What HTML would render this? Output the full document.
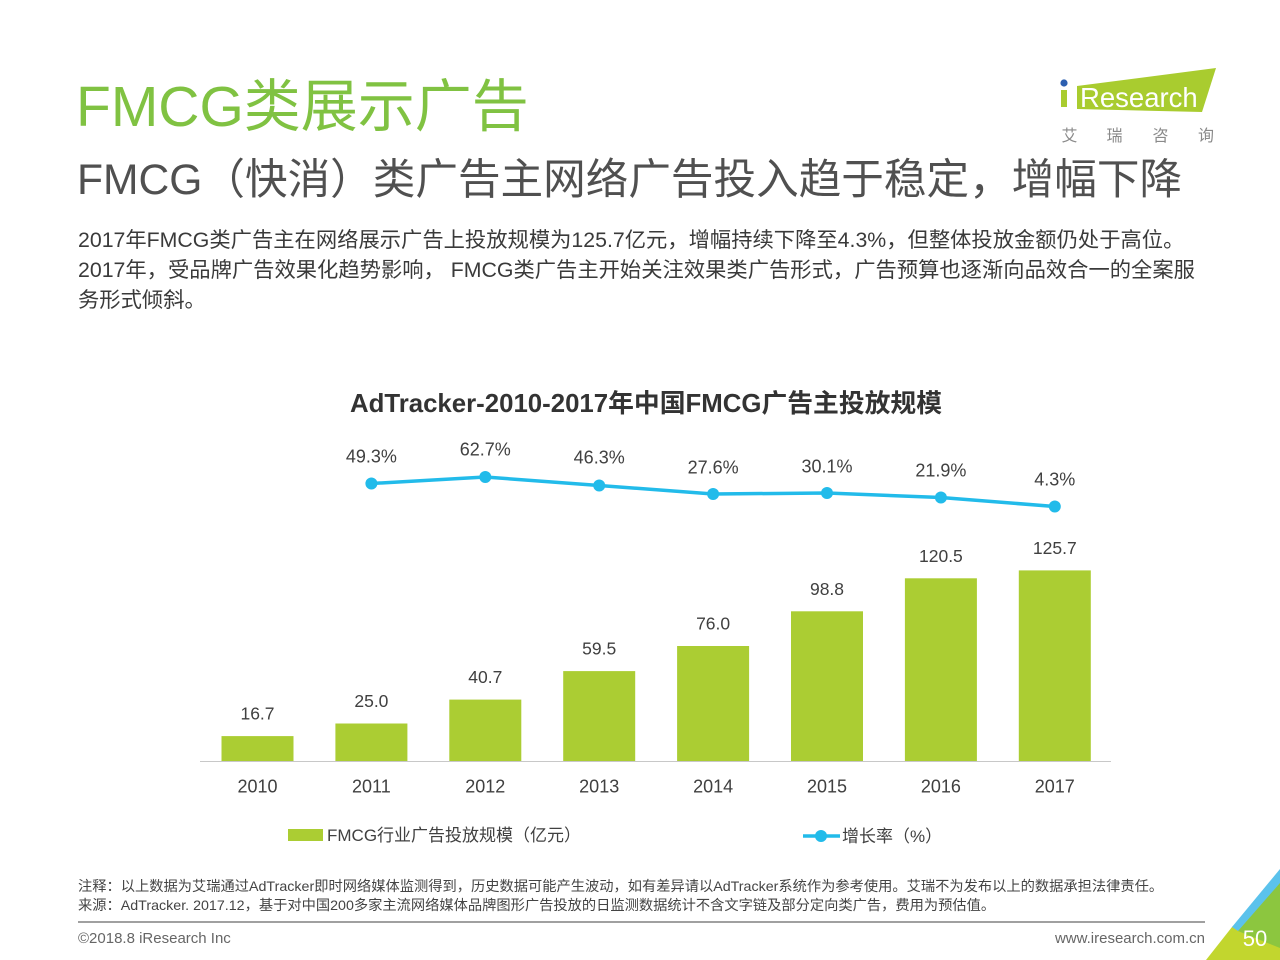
<!DOCTYPE html>
<html>
<head>
<meta charset="utf-8">
<style>
  html,body{margin:0;padding:0;background:#fff;}
  body{width:1280px;height:960px;position:relative;overflow:hidden;font-family:"Liberation Sans","Noto Sans CJK SC",sans-serif;}
  .abs{position:absolute;white-space:nowrap;}
  #title{left:76px;top:74px;font-size:57px;line-height:66px;color:#80c242;}
  #subtitle{left:77px;top:154px;font-size:42.6px;line-height:52px;color:#505050;}
  .body{left:78px;font-size:21.3px;line-height:30px;color:#3a3a3a;}
  .note{left:78px;font-size:14.25px;line-height:19px;color:#444;}
  .foot{font-size:15px;line-height:20px;color:#666;}
</style>
</head>
<body>
<div id="title" class="abs">FMCG类展示广告</div>
<div id="subtitle" class="abs">FMCG（快消）类广告主网络广告投入趋于稳定，增幅下降</div>
<div class="abs body" style="top:225px;">2017年FMCG类广告主在网络展示广告上投放规模为125.7亿元，增幅持续下降至4.3%，但整体投放金额仍处于高位。</div>
<div class="abs body" style="top:255px;">2017年，受品牌广告效果化趋势影响， FMCG类广告主开始关注效果类广告形式，广告预算也逐渐向品效合一的全案服</div>
<div class="abs body" style="top:285px;">务形式倾斜。</div>

<div class="abs note" style="top:878px;">注释：以上数据为艾瑞通过AdTracker即时网络媒体监测得到，历史数据可能产生波动，如有差异请以AdTracker系统作为参考使用。艾瑞不为发布以上的数据承担法律责任。</div>
<div class="abs note" style="top:897px;">来源：AdTracker. 2017.12，基于对中国200多家主流网络媒体品牌图形广告投放的日监测数据统计不含文字链及部分定向类广告，费用为预估值。</div>
<div class="abs foot" style="left:78px;top:929px;">©2018.8 iResearch Inc</div>
<div class="abs foot" style="right:75px;top:929px;">www.iresearch.com.cn</div>

<svg class="abs" style="left:0;top:0;" width="1280" height="960" viewBox="0 0 1280 960" xmlns="http://www.w3.org/2000/svg" font-family="Liberation Sans, Noto Sans CJK SC, sans-serif">
  <!-- logo -->
  <polygon points="1077,86 1216,68 1202,112 1077,109" fill="#a9cc2f"/>
  <rect x="1061" y="90" width="6" height="17" fill="#a9cc2f"/>
  <circle cx="1064" cy="83" r="3.6" fill="#2c5fb0"/>
  <text x="1080" y="107" font-size="27.5" fill="#fff">Research</text>
  <g font-size="16" fill="#8a8a8a" text-anchor="middle">
    <text x="1069.5" y="141">艾</text>
    <text x="1114.5" y="141">瑞</text>
    <text x="1160.5" y="141">咨</text>
    <text x="1206" y="141">询</text>
  </g>

  <!-- chart title -->
  <text x="646" y="412" font-size="25.8" font-weight="bold" fill="#333" text-anchor="middle">AdTracker-2010-2017年中国FMCG广告主投放规模</text>

  <!-- bars -->
  <g fill="#abcd33">
    <rect x="221.5" y="736.1" width="72" height="25.4"/>
    <rect x="335.4" y="723.5" width="72" height="38"/>
    <rect x="449.3" y="699.6" width="72" height="61.9"/>
    <rect x="563.2" y="671.1" width="72" height="90.4"/>
    <rect x="677.1" y="646" width="72" height="115.5"/>
    <rect x="791" y="611.3" width="72" height="150.2"/>
    <rect x="904.9" y="578.3" width="72" height="183.2"/>
    <rect x="1018.8" y="570.4" width="72" height="191.1"/>
  </g>
  <line x1="200" y1="761.5" x2="1111" y2="761.5" stroke="#c8c8c8" stroke-width="1"/>

  <g font-size="17.5" fill="#404040" text-anchor="middle">
    <text x="257.5" y="719.6">16.7</text>
    <text x="371.4" y="707">25.0</text>
    <text x="485.3" y="683.1">40.7</text>
    <text x="599.2" y="654.6">59.5</text>
    <text x="713.1" y="629.5">76.0</text>
    <text x="827" y="594.8">98.8</text>
    <text x="940.9" y="561.8">120.5</text>
    <text x="1054.8" y="553.9">125.7</text>
  </g>

  <g font-size="18" fill="#404040" text-anchor="middle">
    <text x="257.5" y="792.5">2010</text>
    <text x="371.4" y="792.5">2011</text>
    <text x="485.3" y="792.5">2012</text>
    <text x="599.2" y="792.5">2013</text>
    <text x="713.1" y="792.5">2014</text>
    <text x="827" y="792.5">2015</text>
    <text x="940.9" y="792.5">2016</text>
    <text x="1054.8" y="792.5">2017</text>
  </g>

  <!-- growth line -->
  <polyline points="371.4,483.5 485.3,477 599.2,485.5 713.1,494 827,493 940.9,497.5 1054.8,506.5" fill="none" stroke="#22bbea" stroke-width="3.5" stroke-linejoin="round"/>
  <g fill="#22bbea">
    <circle cx="371.4" cy="483.5" r="6"/>
    <circle cx="485.3" cy="477" r="6"/>
    <circle cx="599.2" cy="485.5" r="6"/>
    <circle cx="713.1" cy="494" r="6"/>
    <circle cx="827" cy="493" r="6"/>
    <circle cx="940.9" cy="497.5" r="6"/>
    <circle cx="1054.8" cy="506.5" r="6"/>
  </g>
  <g font-size="18" fill="#404040" text-anchor="middle">
    <text x="371.4" y="462.5">49.3%</text>
    <text x="485.3" y="455.5">62.7%</text>
    <text x="599.2" y="463.5">46.3%</text>
    <text x="713.1" y="473.5">27.6%</text>
    <text x="827" y="472.5">30.1%</text>
    <text x="940.9" y="476.5">21.9%</text>
    <text x="1054.8" y="485.5">4.3%</text>
  </g>

  <!-- legend -->
  <rect x="288" y="829" width="35" height="12" fill="#abcd33"/>
  <text x="327" y="841" font-size="17" fill="#404040">FMCG行业广告投放规模（亿元）</text>
  <line x1="803" y1="836" x2="840" y2="836" stroke="#22bbea" stroke-width="3.5"/>
  <circle cx="821" cy="836" r="6" fill="#22bbea"/>
  <text x="842" y="842" font-size="17" fill="#404040">增长率（%）</text>

  <!-- footer separator -->
  <line x1="78" y1="922" x2="1205" y2="922" stroke="#a0a0a0" stroke-width="2"/>

  <!-- corner decoration -->
  <polygon points="1206,960 1232,927 1280,882 1280,960" fill="#c2d62e"/>
  <polygon points="1238,931 1280,882 1280,948" fill="#8cc63f"/>
  <polygon points="1280,869 1280,883 1238,931 1232,927" fill="#5bc2ec"/>
  <text x="1255" y="946" font-size="22" fill="#fff" text-anchor="middle">50</text>
</svg>
</body>
</html>
